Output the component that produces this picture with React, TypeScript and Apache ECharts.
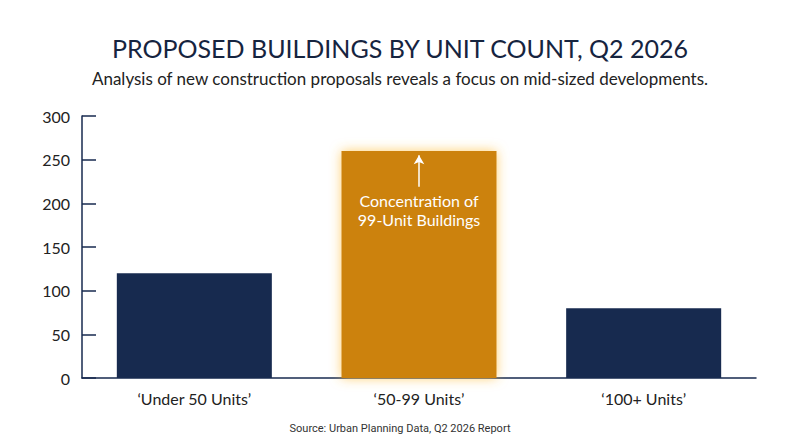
import React, { useEffect, useRef } from "react";
import * as echarts from "echarts";

const categories = ["‘Under 50 Units’", "‘50-99 Units’", "‘100+ Units’"];
const unitCounts = [120, 260, 80];
const highlightIndex = 1;
const annotationText = "Concentration of\n99-Unit Buildings";
// arrow inside the highlighted bar, in data units
const arrowFrom = 219;
const arrowTo = 255;

const NAVY = "#172a4f";
const ORANGE = "#cc8208";
const FONT = "Lato, 'Open Sans', sans-serif";

const App: React.FC = () => {
  const chartRef = useRef<HTMLDivElement>(null);

  useEffect(() => {
    const chart = echarts.init(chartRef.current!, null, { renderer: "svg" });

    chart.setOption({
      animation: false,
      backgroundColor: "#fff",
      title: [
        {
          text: "PROPOSED BUILDINGS BY UNIT COUNT, Q2 2026",
          left: "center",
          top: 30,
          textStyle: { fontFamily: FONT, fontSize: 25, fontWeight: "normal", color: "#16243f" },
        },
        {
          text: "Analysis of new construction proposals reveals a focus on mid-sized developments.",
          left: "center",
          top: 65,
          textStyle: { fontFamily: FONT, fontSize: 17, fontWeight: "normal", color: "#222" },
        },
        {
          text: "Source: Urban Planning Data, Q2 2026 Report",
          left: "center",
          top: 418,
          textStyle: {
            fontFamily: "'Liberation Sans Narrow', 'Roboto', sans-serif",
            fontSize: 11,
            fontWeight: "normal",
            color: "#333",
          },
        },
      ],
      grid: { left: 82, right: 44, top: 116, bottom: 69 },
      xAxis: {
        type: "category",
        data: categories,
        axisLine: { lineStyle: { color: NAVY, width: 1.5 } },
        axisTick: { show: false },
        axisLabel: { fontFamily: FONT, fontSize: 16, color: "#222", margin: 12 },
      },
      yAxis: {
        type: "value",
        min: 0,
        max: 300,
        interval: 50,
        splitLine: { show: false },
        axisLine: { show: true, lineStyle: { color: NAVY, width: 1.5 } },
        axisTick: { show: true, inside: true, length: 14, lineStyle: { color: NAVY, width: 1.5 } },
        axisLabel: { fontFamily: FONT, fontSize: 16, color: "#222", margin: 12 },
      },
      series: [
        {
          type: "bar",
          barWidth: "69%",
          data: unitCounts.map((v, i) =>
            i === highlightIndex
              ? {
                  value: v,
                  itemStyle: {
                    color: ORANGE,
                    shadowColor: "rgba(255,190,60,0.75)",
                    shadowBlur: 12,
                  },
                  label: {
                    show: true,
                    position: "insideTop",
                    distance: 40,
                    formatter: annotationText,
                    color: "#fff",
                    fontFamily: FONT,
                    fontSize: 16,
                    lineHeight: 19,
                  },
                }
              : { value: v, itemStyle: { color: NAVY } }
          ),
          markLine: {
            silent: true,
            symbol: ["none", "arrow"],
            symbolSize: [8, 9],
            label: { show: false },
            lineStyle: { color: "#fff", width: 1.5, type: "solid" },
            data: [
              [
                { coord: [highlightIndex, arrowFrom] },
                { coord: [highlightIndex, arrowTo] },
              ],
            ],
          },
        },
      ],
    });

    return () => {
      chart.dispose();
    };
  }, []);

  return (
    <div
      ref={chartRef}
      style={{ position: "absolute", left: 0, top: 0, width: "800px", height: "447px" }}
    />
  );
};

export default App;
